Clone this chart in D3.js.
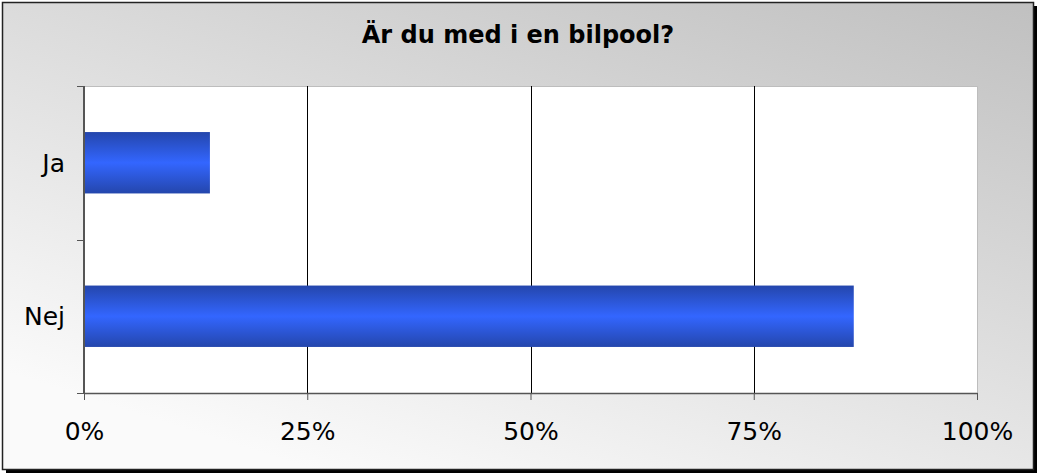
<!DOCTYPE html>
<html lang="en">
<head>
<meta charset="utf-8">
<title>Bilpool</title>
<script src="https://d3js.org/d3.v7.min.js"></script>
<style>
  body { margin: 0; background: #fff; }
  text { font-family: "DejaVu Sans", Verdana, sans-serif; fill: #000; }
</style>
</head>
<body>
<svg id="chart" width="1037" height="475"></svg>
<script>
// data
var categories = ["Ja", "Nej"];
var values = [14.1, 86.2];          // percent
var tickValues = [0, 25, 50, 75, 100];
var title = "Är du med i en bilpool?";

var W = 1037, H = 475;
var margin = { top: 86, right: 60, bottom: 82, left: 84 };
var frame = { x: 2, y: 2, w: 1031, h: 467 };

var svg = d3.select("#chart");
var defs = svg.append("defs");

// background gradient of the chart area
var bg = defs.append("linearGradient").attr("id", "bg")
  .attr("x1", "0.3").attr("y1", "1").attr("x2", "1").attr("y2", "0");
bg.append("stop").attr("offset", "0").attr("stop-color", "#fafafa");
bg.append("stop").attr("offset", "1").attr("stop-color", "#c0c0c0");

// bar gradient (dark edges, bright middle)
var bar = defs.append("linearGradient").attr("id", "bar")
  .attr("x1", "0").attr("y1", "0").attr("x2", "0").attr("y2", "1");
bar.append("stop").attr("offset", "0").attr("stop-color", "#2446ac");
bar.append("stop").attr("offset", "0.5").attr("stop-color", "#3366ff");
bar.append("stop").attr("offset", "1").attr("stop-color", "#2446ac");

// shadow + frame
svg.append("rect")
  .attr("x", frame.x + 4).attr("y", frame.y + 4)
  .attr("width", frame.w).attr("height", frame.h)
  .attr("fill", "#000");
svg.append("rect")
  .attr("x", frame.x + 0.5).attr("y", frame.y + 0.5)
  .attr("width", frame.w).attr("height", frame.h)
  .attr("fill", "url(#bg)")
  .attr("stroke", "#222").attr("stroke-width", 1.5);

// title
svg.append("text")
  .attr("x", 518).attr("y", 43)
  .attr("text-anchor", "middle")
  .style("font-size", "24px").style("font-weight", "bold")
  .text(title);

var width = 977 - margin.left,
    height = 393 - margin.top;

var g = svg.append("g")
  .attr("transform", "translate(" + margin.left + "," + margin.top + ")");

var x = d3.scaleLinear().domain([0, 100]).range([0, width]);
var y = d3.scaleBand().domain(categories).range([0, height]).paddingInner(0.6).paddingOuter(0.3);

// plot area
g.append("rect")
  .attr("x", 0).attr("y", 0)
  .attr("width", width).attr("height", height)
  .attr("fill", "#fff");
g.append("path")
  .attr("d", "M0,0.5H" + (width + 0.5) + "V" + height)
  .attr("fill", "none").attr("stroke", "#bdbdbd");

// gridlines
g.selectAll(".grid")
  .data(tickValues.filter(function (d) { return d > 0 && d < 100; }))
  .enter().append("line")
  .attr("x1", function (d) { return Math.round(x(d)) + 0.5; })
  .attr("x2", function (d) { return Math.round(x(d)) + 0.5; })
  .attr("y1", 0).attr("y2", height)
  .attr("stroke", "#000");

// bars
g.selectAll(".bar")
  .data(values)
  .enter().append("rect")
  .attr("x", 1)
  .attr("y", function (d, i) { return y(categories[i]); })
  .attr("width", function (d) { return x(d) - 1; })
  .attr("height", y.bandwidth())
  .attr("fill", "url(#bar)");

// x axis
var xAxis = g.append("g")
  .attr("transform", "translate(0," + height + ")")
  .call(d3.axisBottom(x).tickValues(tickValues)
    .tickFormat(function (d) { return d + "%"; })
    .tickSizeInner(7).tickSizeOuter(0).tickPadding(22));
xAxis.select(".domain").attr("stroke", "#555").attr("stroke-width", 1.5);
xAxis.selectAll(".tick line").attr("stroke", "#555");
xAxis.selectAll("text").style("font-size", "25px").attr("fill", "#000");

// y axis
var yEdges = d3.scaleLinear().domain([0, categories.length]).range([0, height]);
var yAxis = g.append("g");
yAxis.append("line")
  .attr("x1", 0).attr("x2", 0).attr("y1", 0).attr("y2", height)
  .attr("stroke", "#555").attr("stroke-width", 2);
yAxis.selectAll(".ytick")
  .data(d3.range(categories.length + 1))
  .enter().append("line")
  .attr("x1", -7).attr("x2", 0)
  .attr("y1", function (d) { return Math.round(yEdges(d)) + 0.5; })
  .attr("y2", function (d) { return Math.round(yEdges(d)) + 0.5; })
  .attr("stroke", "#555");
yAxis.selectAll(".ylabel")
  .data(categories)
  .enter().append("text")
  .attr("x", -19)
  .attr("y", function (d, i) { return (yEdges(i) + yEdges(i + 1)) / 2; })
  .attr("dy", "0.35em")
  .attr("text-anchor", "end")
  .style("font-size", "25px")
  .text(function (d) { return d; });
</script>
</body>
</html>
